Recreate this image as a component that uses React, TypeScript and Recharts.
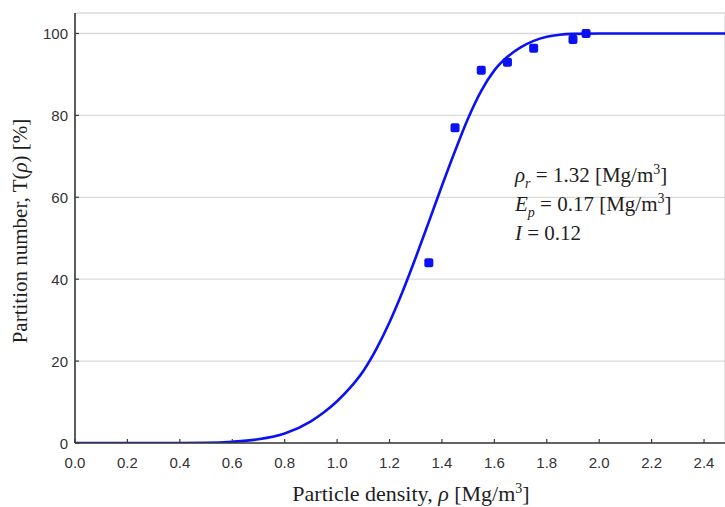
import {
  CartesianGrid,
  ComposedChart,
  Line,
  Scatter,
  XAxis,
  YAxis
} from "recharts";

// fitted partition curve
const curveRho = [0, 0.2, 0.4, 0.5, 0.6, 0.7, 0.8, 0.9, 0.95, 1.0, 1.05, 1.1, 1.15, 1.2, 1.25, 1.3, 1.35, 1.4, 1.45, 1.5, 1.55, 1.6, 1.65, 1.7, 1.75, 1.8, 1.85, 1.9, 2.0, 2.2, 2.48];
const curveT = [0, 0, 0, 0.05, 0.3, 0.9, 2.3, 5.3, 7.5, 10.2, 13.5, 17.6, 23, 29.5, 37, 45.3, 54, 62.8, 71.3, 79.3, 86, 91, 94.3, 96.6, 98.2, 99.2, 99.7, 99.9, 100, 100, 100];

// measured points
const sampleRho = [1.35, 1.45, 1.55, 1.65, 1.75, 1.9, 1.95];
const sampleT = [44, 77, 91, 93, 96.4, 98.5, 100];

const xTicks = [0, 0.2, 0.4, 0.6, 0.8, 1.0, 1.2, 1.4, 1.6, 1.8, 2.0, 2.2, 2.4];
const yTicks = [0, 20, 40, 60, 80, 100];
const topTicks = [0.5, 1.0, 1.5, 2.0];

const curveData = curveRho.map((rho, i) => ({ rho, t: curveT[i] }));
const sampleData = sampleRho.map((rho, i) => ({ rho, t: sampleT[i] }));

const BLUE = "#0a12f2";
const AXIS = "#3a3a3a";
const tickFont = { fontFamily: "Liberation Sans", fontSize: 15, fill: "#333" };

function XTick({ x, y, payload }: any) {
  return (
    <g>
      <line x1={x} x2={x} y1={y} y2={y - 4} stroke={AXIS} strokeWidth={1.2} />
      <text x={x} y={y + 19} textAnchor="middle" dominantBaseline="central" {...tickFont}>
        {payload.value.toFixed(1)}
      </text>
    </g>
  );
}

function YTick({ x, y, payload }: any) {
  return (
    <g>
      <line x1={x} x2={x + 4} y1={y} y2={y} stroke={AXIS} strokeWidth={1.2} />
      <text x={x - 7} y={y} textAnchor="end" dominantBaseline="central" {...tickFont}>
        {payload.value}
      </text>
    </g>
  );
}

function TopTick({ x, y }: any) {
  return <line x1={x} x2={x} y1={y} y2={y + 4} stroke={AXIS} strokeWidth={1.2} />;
}

function SquareDot({ cx, cy }: any) {
  return <rect x={cx - 4.5} y={cy - 4.5} width={9} height={9} rx={2} fill={BLUE} />;
}

const serif = { fontFamily: "Liberation Serif", color: "#1e1e1e" };
const sub = { fontSize: 14, position: "relative" as const, top: 6, lineHeight: 0 };
const sup = { fontSize: 14, position: "relative" as const, top: -8, lineHeight: 0 };

export default function App() {
  return (
    <div style={{ position: "absolute", left: 0, top: 0, width: 725, height: 507, background: "#fff" }}>
      <ComposedChart width={725} height={507} margin={{ top: 13, right: 0, left: 0, bottom: 0 }}>
        <CartesianGrid stroke="#dadada" strokeWidth={1.3} />
        <XAxis
          xAxisId="bottom"
          dataKey="rho"
          type="number"
          domain={[0, 2.48]}
          ticks={xTicks}
          height={64}
          tickSize={0}
          tickMargin={0}
          tick={<XTick />}
          axisLine={{ stroke: AXIS, strokeWidth: 1.6 }}
          allowDataOverflow
        />
        <XAxis
          xAxisId="top"
          orientation="top"
          dataKey="rho"
          type="number"
          domain={[0, 2.48]}
          ticks={topTicks}
          height={0}
          tickSize={0}
          tickMargin={0}
          tick={<TopTick />}
          axisLine={{ stroke: AXIS, strokeWidth: 1.6 }}
        />
        <YAxis
          dataKey="t"
          type="number"
          domain={[0, 105]}
          ticks={yTicks}
          width={75}
          tickSize={0}
          tickMargin={0}
          tick={<YTick />}
          axisLine={{ stroke: AXIS, strokeWidth: 1.6 }}
          allowDataOverflow
        />
        <Line
          xAxisId="bottom"
          data={curveData}
          dataKey="t"
          type="monotone"
          stroke={BLUE}
          strokeWidth={2.6}
          dot={false}
          isAnimationActive={false}
        />
        <Scatter
          xAxisId="bottom"
          data={sampleData}
          dataKey="t"
          shape={<SquareDot />}
          isAnimationActive={false}
        />
      </ComposedChart>

      <div style={{ ...serif, position: "absolute", left: 515, top: 161, fontSize: 21, lineHeight: "29px", whiteSpace: "nowrap" }}>
        <div><i>ρ<span style={sub}>r</span></i> = 1.32 [Mg/m<span style={sup}>3</span>]</div>
        <div><i>E<span style={sub}>p</span></i> = 0.17 [Mg/m<span style={sup}>3</span>]</div>
        <div><i>I</i> = 0.12</div>
      </div>

      <div style={{ ...serif, position: "absolute", left: 411, top: 494, transform: "translate(-50%, -50%)", fontSize: 22, lineHeight: "26px", whiteSpace: "nowrap" }}>
        Particle density, <i>ρ</i> [Mg/m<span style={sup}>3</span>]
      </div>

      <div style={{ ...serif, position: "absolute", left: 20, top: 231, transform: "translate(-50%, -50%) rotate(-90deg)", fontSize: 21, lineHeight: "26px", whiteSpace: "nowrap" }}>
        Partition number, T(<i>ρ</i>) [%]
      </div>
    </div>
  );
}
